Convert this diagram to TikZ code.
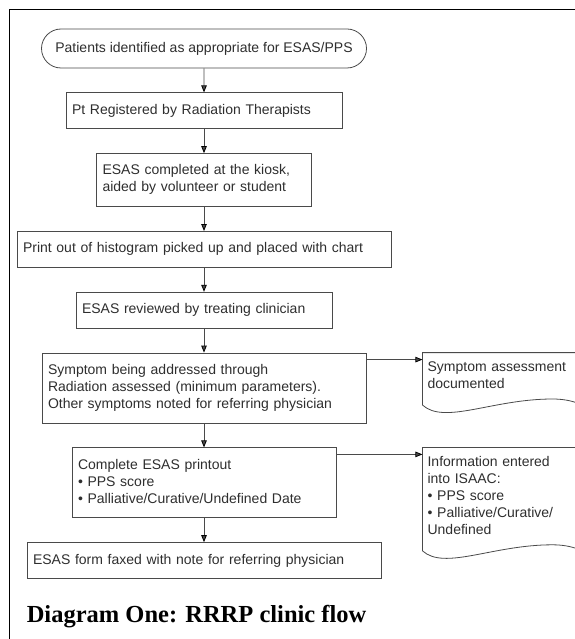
\documentclass[tikz,border=0pt]{standalone}
\usepackage{fontspec}
\setmainfont{Liberation Sans}
\newfontfamily\titlefont{Liberation Serif}
\usetikzlibrary{positioning,shapes.misc,arrows.meta}
\definecolor{boxline}{HTML}{4A4A4A}
\definecolor{boxtext}{HTML}{2E2E2E}

\begin{document}
\begin{tikzpicture}[x=1pt,y=1pt,node distance=24pt,
    font=\fontsize{14}{17}\selectfont,
    terminal/.style={rounded rectangle,draw=boxline,line width=0.8pt,text=boxtext,
      minimum width=337pt,minimum height=39pt,inner xsep=6pt},
    flowbox/.style={draw=boxline,line width=0.8pt,text=boxtext,align=left,
      inner xsep=6pt,inner ysep=9.5pt,
      execute at begin node=\strut,execute at end node=\strut},
    docbox/.style={text=boxtext,align=left,text width=160pt,
      inner xsep=5pt,inner ysep=7pt,
      execute at begin node=\strut,execute at end node=\strut},
    docline/.style={draw=boxline,line width=0.8pt},
    flow/.style={color=boxline,line width=0.8pt,-{Triangle[length=7pt,width=5.5pt,color=black]}}]
    \useasboundingbox (0,0) rectangle (574,-639);

    % outer frame
    \draw[line width=1.6pt] (9.5,-650) |- (590,-9.5);

    % main column
    \node[terminal]                   (patients) at (204,-48.5)      {Patients identified as appropriate for ESAS/PPS};
    \node[flowbox,text width=264pt]   (register) [below=of patients] {Pt Registered by Radiation Therapists};
    \node[flowbox,text width=203pt]   (kiosk)    [below=of register] {ESAS completed at the kiosk,\\aided by volunteer or student};
    \node[flowbox,text width=362pt]   (printout) [below=of kiosk]    {Print out of histogram picked up and placed with chart};
    \node[flowbox,text width=244pt]   (review)   [below=of printout] {ESAS reviewed by treating clinician};
    \node[flowbox,text width=312pt]   (symptom)  [below=of review]   {Symptom being addressed through\\Radiation assessed (minimum parameters).\\Other symptoms noted for referring physician};
    \node[flowbox,text width=252pt]   (complete) [below=of symptom]  {Complete ESAS printout\\\textbullet\ PPS score\\\textbullet\ Palliative/Curative/Undefined Date};
    \node[flowbox,text width=342pt]   (faxed)    [below=of complete] {ESAS form faxed with note for referring physician};

    % documents on the right
    \node[docbox] (documented) [right=56pt of symptom.north east,anchor=north west] {Symptom assessment\\documented};
    \node[docbox,anchor=north west] (isaac) at (documented.west |- complete.north) {Information entered\\into ISAAC:\\\textbullet\ PPS score\\\textbullet\ Palliative/Curative/\\Undefined};

    \foreach \d in {documented,isaac}
      \draw[docline] ([xshift=20pt]\d.north east) -- (\d.north west) -- ([yshift=-4pt]\d.south west)
        .. controls +(22pt,-20pt) and +(-60pt,0pt) .. ++(130pt,6pt)
        .. controls +(20pt,0pt) and +(-15pt,6pt) .. ++(45pt,-12pt);

    % title
    \node[font=\titlefont\bfseries\fontsize{24.5}{28}\selectfont,inner sep=0pt]
      (title) [below right=43pt and 0pt of faxed.south west,anchor=base west] {Diagram One: RRRP clinic flow};

    \path[flow] (patients) edge (register)
                (register) edge (kiosk)
                (kiosk)    edge (printout)
                (printout) edge (review)
                (review)   edge (symptom)
                (symptom)  edge (complete)
                (complete) edge (faxed);
    \path[flow] ([yshift=-7pt]symptom.north east)  edge ([yshift=-7pt]documented.north west)
                ([yshift=-7pt]complete.north east) edge ([yshift=-7pt]isaac.north west);
\end{tikzpicture}
\end{document}
